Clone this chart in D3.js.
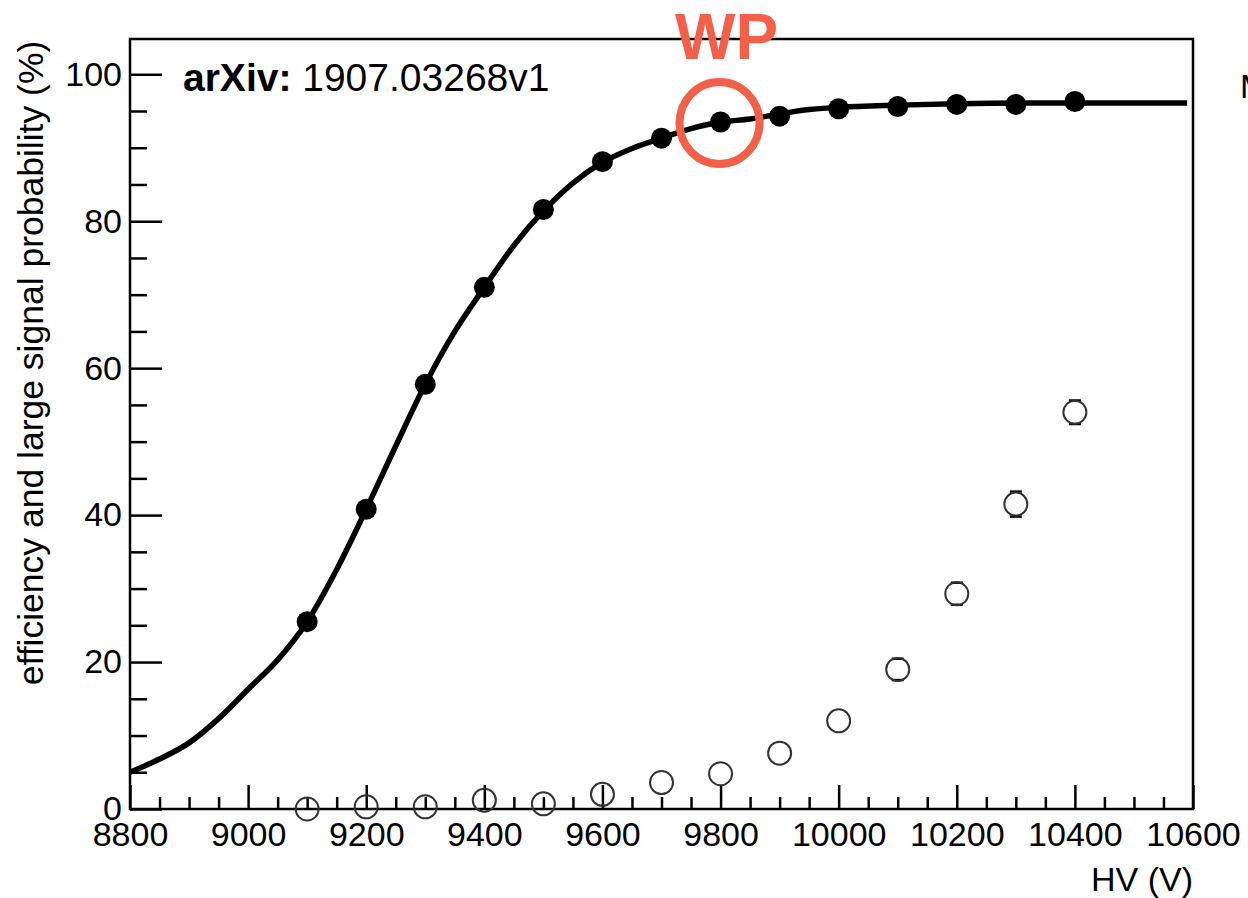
<!DOCTYPE html>
<html>
<head>
<meta charset="utf-8">
<script src="https://cdn.jsdelivr.net/npm/d3@7"></script>
<style>
  body { margin: 0; background: #fff; }
  svg { display: block; font-family: "Liberation Sans", Arial, Helvetica, sans-serif; }
</style>
</head>
<body>
<svg id="chart" width="1248" height="898"></svg>
<script>
// measured points (HV in volts, values in %)
var hv = [9100, 9200, 9300, 9400, 9500, 9600, 9700, 9800, 9900, 10000, 10100, 10200, 10300, 10400];
var efficiency = [25.5, 40.8, 57.8, 71.0, 81.6, 88.1, 91.3, 93.5, 94.3, 95.3, 95.6, 95.9, 95.9, 96.3];
var largeSignal = [0.0, 0.3, 0.3, 1.2, 0.7, 2.0, 3.6, 4.8, 7.6, 12.0, 19.0, 29.3, 41.5, 54.0];
var largeSignalErr = [0.3, 0.3, 0.3, 0.4, 0.4, 0.5, 0.6, 0.7, 0.8, 1.0, 1.45, 1.5, 1.7, 1.6];

// fit curve
var curveHV = [8800, 8850, 8900, 8950, 9000, 9050, 9100, 9150, 9200, 9250, 9300, 9350, 9400, 9450, 9500,
               9550, 9600, 9650, 9700, 9750, 9800, 9850, 9900, 9950, 10000, 10100, 10200, 10300, 10400, 10590];
var curveEff = [5.0, 6.8, 9.0, 12.3, 16.3, 20.3, 25.5, 32.6, 40.8, 49.4, 57.8, 65.0, 71.0, 76.7, 81.4,
                85.2, 88.0, 89.9, 91.3, 92.6, 93.5, 93.9, 94.6, 95.2, 95.5, 95.8, 96.0, 96.1, 96.1, 96.1];

var xMajor = [8800, 9000, 9200, 9400, 9600, 9800, 10000, 10200, 10400, 10600];
var yMajor = [0, 20, 40, 60, 80, 100];
var wpHV = 9800;

function drawChart() {
  var svg = d3.select("#chart");
  var m = {left: 130, right: 1193, top: 39, bottom: 809};

  var x = d3.scaleLinear().domain([8800, 10600]).range([m.left, m.right]);
  var y = d3.scaleLinear().domain([0, 104.8]).range([m.bottom, m.top]);

  // minor ticks
  var xMinor = d3.range(8800, 10601, 50).filter(function(d) { return xMajor.indexOf(d) < 0; });
  var yMinor = d3.range(0, 104, 5).filter(function(d) { return yMajor.indexOf(d) < 0; });

  svg.append("g")
     .attr("transform", "translate(0," + m.bottom + ")")
     .call(d3.axisBottom(x).tickValues(xMinor).tickSize(-12).tickFormat(""))
     .call(function(g) { g.select(".domain").remove(); });

  svg.append("g")
     .attr("transform", "translate(0," + m.bottom + ")")
     .call(d3.axisBottom(x).tickValues(xMajor).tickSize(-24).tickPadding(13).tickFormat(d3.format("d")))
     .call(function(g) { g.select(".domain").remove(); });

  svg.append("g")
     .attr("transform", "translate(" + m.left + ",0)")
     .call(d3.axisLeft(y).tickValues(yMinor).tickSize(-17).tickFormat(""))
     .call(function(g) { g.select(".domain").remove(); });

  svg.append("g")
     .attr("transform", "translate(" + m.left + ",0)")
     .call(d3.axisLeft(y).tickValues(yMajor).tickSize(-32).tickPadding(8).tickFormat(d3.format("d")))
     .call(function(g) { g.select(".domain").remove(); });

  svg.selectAll(".tick line").attr("stroke", "#000").attr("stroke-width", 2.5);
  svg.selectAll(".tick text").attr("fill", "#000").style("font-size", "34px");

  // frame
  svg.append("rect")
     .attr("x", m.left).attr("y", m.top)
     .attr("width", m.right - m.left).attr("height", m.bottom - m.top)
     .attr("fill", "none").attr("stroke", "#000").attr("stroke-width", 2.5);

  // fit curve
  var line = d3.line()
     .x(function(d, i) { return x(curveHV[i]); })
     .y(function(d) { return y(d); })
     .curve(d3.curveMonotoneX);

  svg.append("path")
     .datum(curveEff)
     .attr("d", line)
     .attr("fill", "none")
     .attr("stroke", "#000")
     .attr("stroke-width", 5.5)
     .attr("stroke-linejoin", "round");

  // efficiency points
  svg.selectAll(".eff")
     .data(efficiency)
     .enter().append("circle")
     .attr("class", "eff")
     .attr("cx", function(d, i) { return x(hv[i]); })
     .attr("cy", function(d) { return y(d); })
     .attr("r", 10.5)
     .attr("fill", "#000");

  // large signal probability, error bars only outside the marker
  var r = 11.5;
  var err = svg.append("g").attr("stroke", "#000").attr("stroke-width", 2.5);
  largeSignal.forEach(function(v, i) {
    var cx = x(hv[i]), cy = y(v);
    var up = y(v + largeSignalErr[i]), dn = y(v - largeSignalErr[i]);
    if (cy - up > r - 2) {
      err.append("line").attr("x1", cx).attr("x2", cx).attr("y1", up).attr("y2", cy - r);
      err.append("line").attr("x1", cx - 6).attr("x2", cx + 6).attr("y1", up).attr("y2", up);
    }
    if (dn - cy > r - 2) {
      err.append("line").attr("x1", cx).attr("x2", cx).attr("y1", dn).attr("y2", cy + r);
      err.append("line").attr("x1", cx - 6).attr("x2", cx + 6).attr("y1", dn).attr("y2", dn);
    }
  });

  svg.selectAll(".lsp")
     .data(largeSignal)
     .enter().append("circle")
     .attr("class", "lsp")
     .attr("cx", function(d, i) { return x(hv[i]); })
     .attr("cy", function(d) { return y(d); })
     .attr("r", r)
     .attr("fill", "none")
     .attr("stroke", "#333")
     .attr("stroke-width", 2);

  // WP annotation
  var wpIdx = hv.indexOf(wpHV);
  svg.append("ellipse")
     .attr("cx", x(wpHV) - 1)
     .attr("cy", y(efficiency[wpIdx]) + 1)
     .attr("rx", 40).attr("ry", 41)
     .attr("fill", "none")
     .attr("stroke", "#f3604a")
     .attr("stroke-width", 8);

  svg.append("text")
     .attr("x", x(wpHV) + 6).attr("y", 59)
     .attr("text-anchor", "middle")
     .attr("fill", "#f3604a")
     .style("font-size", "64px").style("font-weight", "bold")
     .text("WP");

  // labels
  var arx = svg.append("text").attr("x", 183).attr("y", 91).style("font-size", "39px").attr("fill", "#000");
  arx.append("tspan").style("font-weight", "bold").text("arXiv:");
  arx.append("tspan").text(" 1907.03268v1");

  svg.append("text")
     .attr("transform", "translate(43,363) rotate(-90)")
     .attr("text-anchor", "middle")
     .style("font-size", "35.5px")
     .text("efficiency and large signal probability (%)");

  svg.append("text")
     .attr("x", m.right).attr("y", 891)
     .attr("text-anchor", "end")
     .style("font-size", "34px")
     .text("HV (V)");

  svg.append("text")
     .attr("x", 1240).attr("y", 98)
     .style("font-size", "34px")
     .text("M");
}

drawChart();
</script>
</body>
</html>
